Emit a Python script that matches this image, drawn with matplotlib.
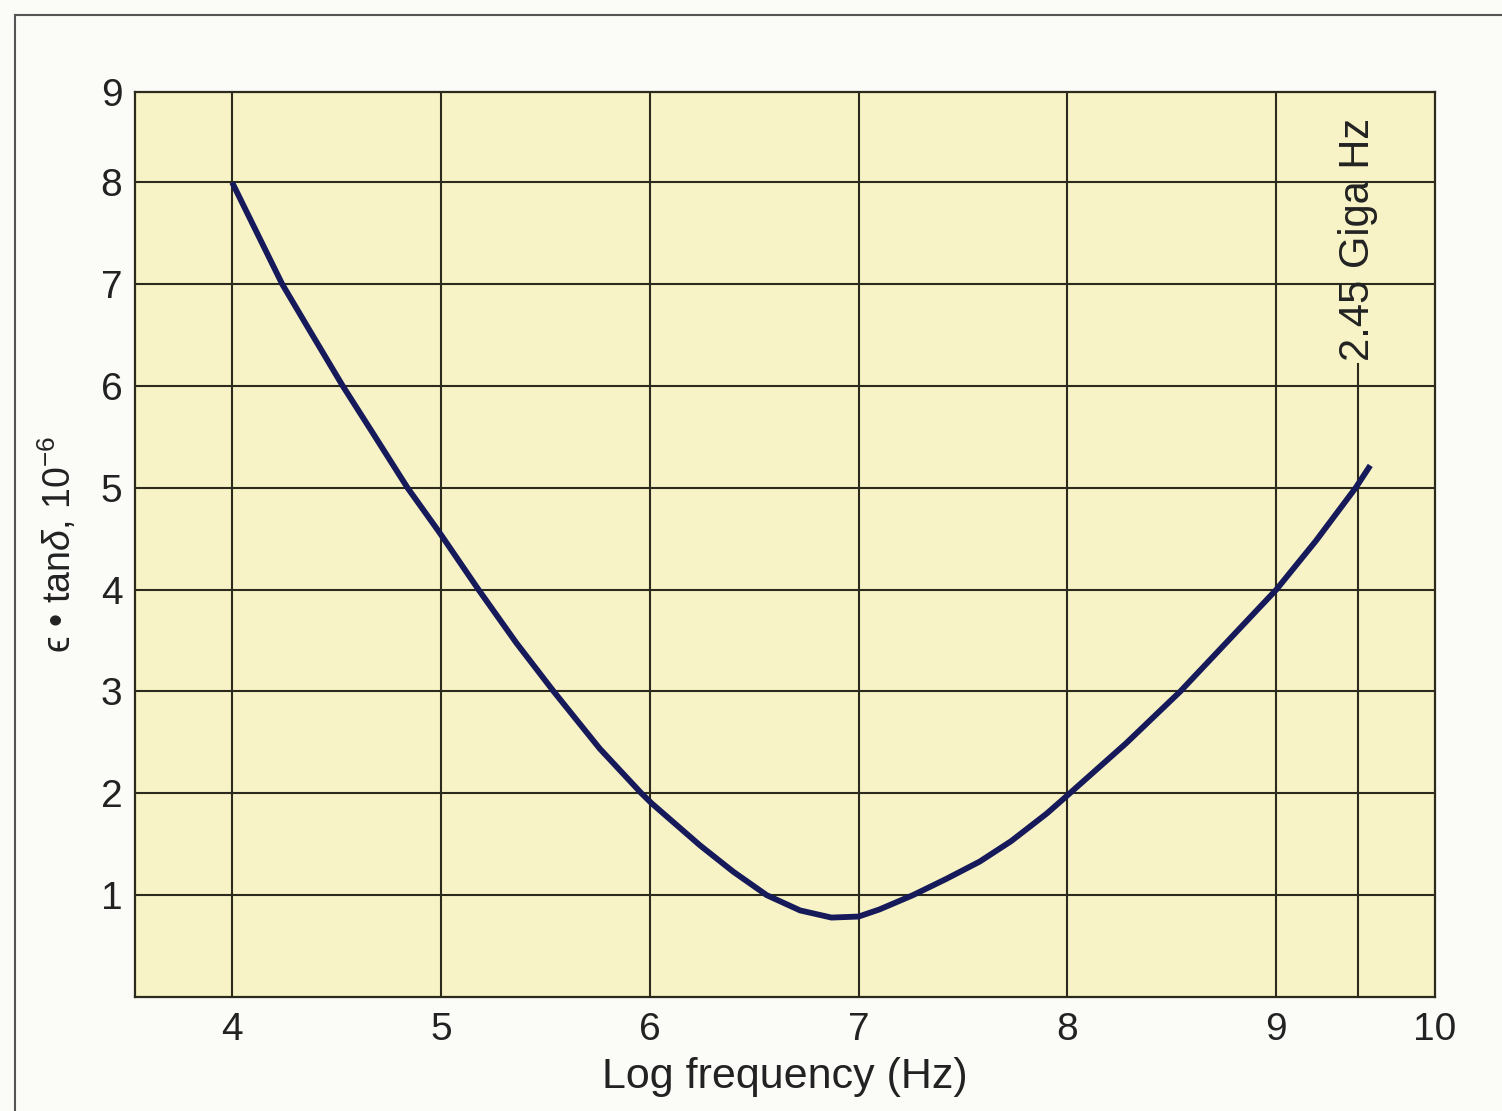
import matplotlib
matplotlib.use('Agg')
import matplotlib.pyplot as plt
from matplotlib.lines import Line2D

plt.rcParams['font.family'] = ['Liberation Sans', 'DejaVu Sans']
plt.rcParams['mathtext.fontset'] = 'custom'
plt.rcParams['mathtext.rm'] = 'Liberation Sans'
plt.rcParams['mathtext.it'] = 'Liberation Sans:italic'

# Значения: log частоты и ε·tanδ (×10^-6)
log_freq = [4.00, 4.24, 4.37, 4.53, 4.67, 4.84, 4.99, 5.18, 5.36, 5.54, 5.76,
            5.96, 6.01, 6.24, 6.40, 6.56, 6.72, 6.87, 7.00, 7.10, 7.26, 7.42,
            7.58, 7.73, 7.90, 8.00, 8.28, 8.54, 8.77, 9.00, 9.19, 9.38, 9.45]
loss = [8.00, 7.00, 6.55, 6.00, 5.55, 5.00, 4.57, 4.00, 3.48, 3.00, 2.44,
        2.00, 1.90, 1.49, 1.23, 1.00, 0.85, 0.78, 0.79, 0.86, 1.00, 1.16,
        1.33, 1.53, 1.80, 1.98, 2.49, 3.00, 3.50, 4.00, 4.48, 5.00, 5.22]

x_ticks = [4, 5, 6, 7, 8, 9]
y_ticks = [1, 2, 3, 4, 5, 6, 7, 8]
microwave = 9.389  # log10(2.45e9)

fig = plt.figure(figsize=(15.02, 11.11), dpi=100, facecolor='#fbfcf8')
ax = fig.add_axes([135 / 1502, 1 - 997 / 1111, 1300 / 1502, 905 / 1111])
ax.set_facecolor('#f7f3c6')

xmin, xmax = 3.535, 9.76
ymin, ymax = 0.0, 8.887
ax.set_xlim(xmin, xmax)
ax.set_ylim(ymin, ymax)

# сетка
for xv in x_ticks:
    ax.axvline(xv, color='#2b2a1c', lw=1.5, zorder=1)
for yv in y_ticks:
    ax.axhline(yv, color='#2b2a1c', lw=1.5, zorder=1)

# линия 2.45 ГГц
ax.plot([microwave, microwave], [0, 6.22], color='#2b2a1c', lw=1.5, zorder=2)
ax.text(microwave, 6.25, '2.45 Giga Hz', rotation=90, ha='center', va='bottom',
        fontsize=30, color='#222222')

ax.plot(log_freq, loss, color='#16195a', lw=4.2, solid_capstyle='butt',
        solid_joinstyle='round', zorder=3)

for s in ax.spines.values():
    s.set_color('#2b2a1c')
    s.set_linewidth(1.6)

ax.set_xticks(x_ticks + [xmax])
ax.set_xticklabels([str(v) for v in x_ticks] + ['10'])
ax.set_yticks(y_ticks + [ymax])
ax.set_yticklabels([str(v) for v in y_ticks] + ['9'])
ax.tick_params(length=0, labelsize=28, colors='#222222')
ax.tick_params(axis='x', pad=11)
ax.tick_params(axis='y', pad=9)

ax.set_xlabel('Log frequency (Hz)', fontsize=31, color='#222222', labelpad=6)
ax.set_ylabel('ϵ • tan' + r'$\delta$' + ', 10' + r'$^{-6}$', fontsize=27,
              color='#222222', labelpad=16)

# рамка страницы
fig.add_artist(Line2D([15 / 1502, 1.0], [1 - 15 / 1111, 1 - 15 / 1111],
                      transform=fig.transFigure, color='#555555', lw=1.5))
fig.add_artist(Line2D([15 / 1502, 15 / 1502], [0.0, 1 - 15 / 1111],
                      transform=fig.transFigure, color='#555555', lw=1.5))

fig.savefig('out.png', dpi=100, facecolor=fig.get_facecolor())
